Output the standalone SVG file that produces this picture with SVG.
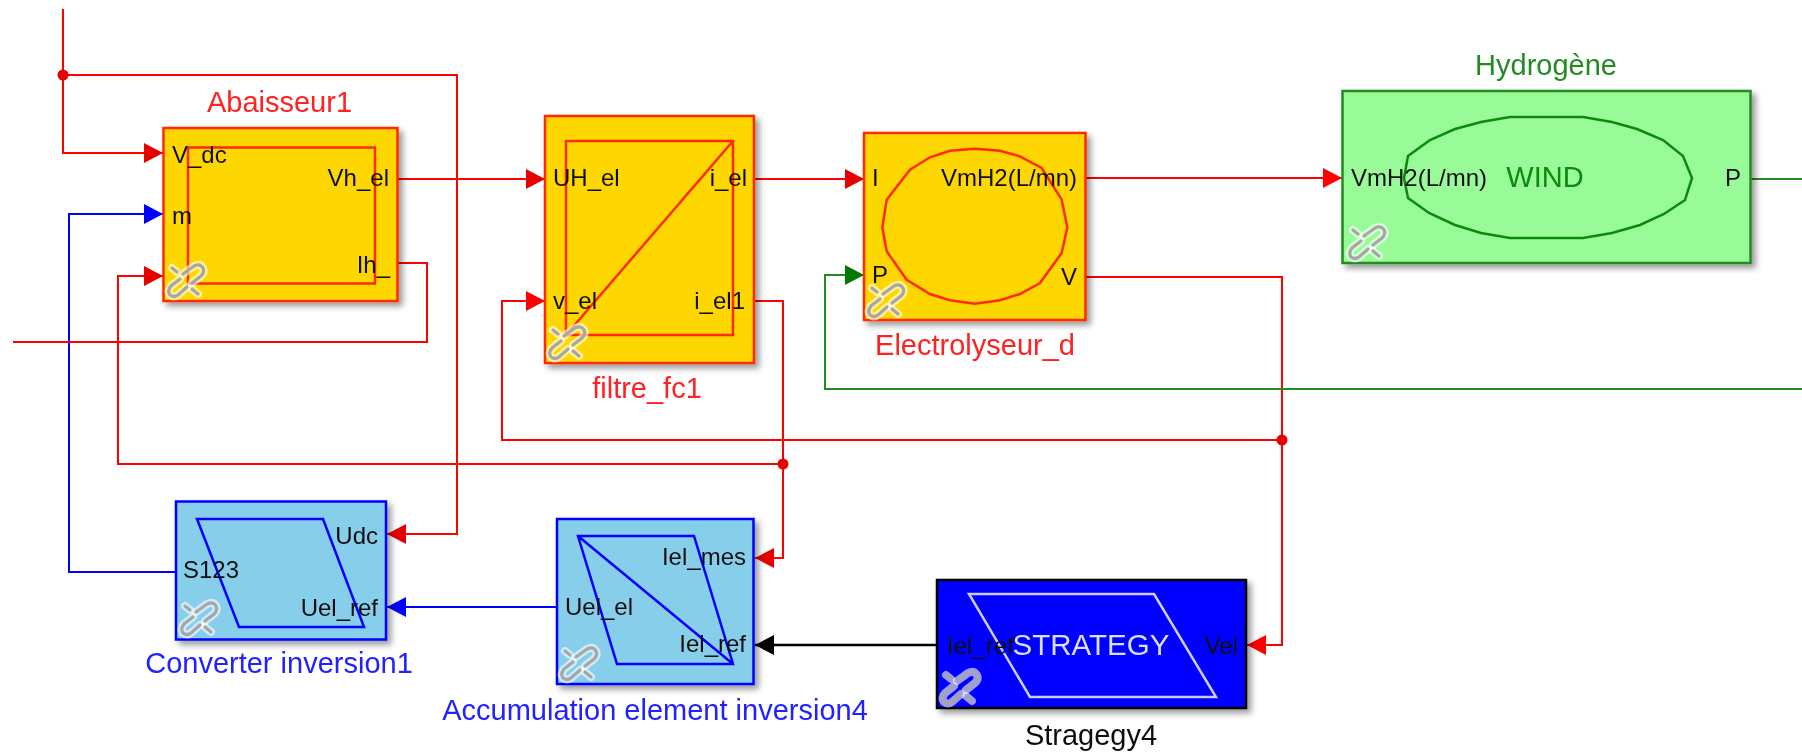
<svg xmlns="http://www.w3.org/2000/svg" width="1802" height="752" viewBox="0 0 1802 752">
<style>
text{font-family:"Liberation Sans",Arial,sans-serif}
.w{fill:none;stroke-width:2}
.r{stroke:#ff0000}.b{stroke:#0000ff}.g{stroke:#228b22}.k{stroke:#000;stroke-width:2.5}
.box{stroke-width:2.5;filter:url(#sh)}
.port{font-size:24px;fill:#111}
.name{font-size:29px;text-anchor:middle}
.ry{fill:#ffd700;stroke:#ff2a00}
.bl{fill:#87ceeb;stroke:#0000ff}
.in{fill:none;stroke-width:2.5}
</style>
<defs>
<filter id="sh" x="-10%" y="-10%" width="125%" height="125%"><feDropShadow dx="4" dy="4" stdDeviation="3" flood-color="#000" flood-opacity="0.4"/></filter>
<filter id="soft" x="-1%" y="-1%" width="102%" height="102%"><feGaussianBlur stdDeviation="0.6"/></filter>
<marker id="ar" markerWidth="20" markerHeight="20" refX="19" refY="10" orient="auto" markerUnits="userSpaceOnUse"><path d="M0 0L19 10L0 20Z" fill="#e60000"/></marker>
<marker id="ar2" markerWidth="20" markerHeight="20" refX="19" refY="10" orient="auto" markerUnits="userSpaceOnUse"><path d="M0 0L19 10L0 20Z" fill="#ff0000"/></marker>
<marker id="ab" markerWidth="20" markerHeight="20" refX="19" refY="10" orient="auto" markerUnits="userSpaceOnUse"><path d="M0 0L19 10L0 20Z" fill="#0000ff"/></marker>
<marker id="ag" markerWidth="20" markerHeight="20" refX="19" refY="10" orient="auto" markerUnits="userSpaceOnUse"><path d="M0 0L19 10L0 20Z" fill="#007a00"/></marker>
<marker id="ak" markerWidth="20" markerHeight="20" refX="19" refY="10" orient="auto" markerUnits="userSpaceOnUse"><path d="M0 0L19 10L0 20Z" fill="#000"/></marker>
<g id="link">
<g stroke="#fff" stroke-opacity="0.6" stroke-width="8" fill="none" stroke-linecap="round"><path d="M-2-6L9-14Q15-17 18-12Q20-8 16-4L7 3"/><path d="M-5-1L-14 6Q-18 11-15 15Q-11 18-7 15L2 7"/><path d="M-13-12L-8-8M7 9L13 14"/></g>
<g stroke="#a6a6a6" stroke-width="3.200" fill="none" stroke-linecap="round"><path d="M-2-6L9-14Q15-17 18-12Q20-8 16-4L7 3"/><path d="M-5-1L-14 6Q-18 11-15 15Q-11 18-7 15L2 7"/><path d="M-13-12L-8-8M7 9L13 14"/></g>
</g>
</defs>
<rect width="1802" height="752" fill="#fff"/>
<g filter="url(#soft)">
<g id="connectors">
<path class="w r" d="M63 9V153H163" marker-end="url(#ar)"/>
<path class="w r" d="M63 75H457V534H387" marker-end="url(#ar)"/>
<path class="w b" d="M176 572H69V214H163" marker-end="url(#ab)"/>
<path class="w r" d="M783 464H118V276H163" marker-end="url(#ar)"/>
<path class="w r" d="M397 263H427V342H13"/>
<path class="w r" d="M397 179H545" marker-end="url(#ar)"/>
<path class="w r" d="M754 179H864" marker-end="url(#ar)"/>
<path class="w r" d="M754 301H783V558H755" marker-end="url(#ar)"/>
<path class="w r" d="M1085 178H1342" marker-end="url(#ar2)"/>
<path class="w r" d="M1085 277H1282V645H1247" marker-end="url(#ar2)"/>
<path class="w r" d="M1282 440H502V301H545" marker-end="url(#ar2)"/>
<path class="w g" d="M1802 389H825V275H864" marker-end="url(#ag)"/>
<path class="w g" d="M1750 179H1802"/>
<path class="w b" d="M557 607H387" marker-end="url(#ab)"/>
<path class="w k" d="M937 645H755" marker-end="url(#ak)"/>
<circle cx="63" cy="75" r="5.500" fill="#e60000"/>
<circle cx="783" cy="464" r="5.500" fill="#e60000"/>
<circle cx="1282" cy="440" r="5.500" fill="#e60000"/>
</g>
<g id="abaisseur">
<rect class="box ry" x="163.500" y="128" width="234" height="173"/>
<rect class="in" stroke="#ff2a00" x="188" y="147.500" width="187" height="136"/>
<text class="name" x="279.500" y="112" fill="#ff2020">Abaisseur1</text>
<text class="port" x="172" y="163">V_dc</text>
<text class="port" x="172" y="224">m</text>
<text class="port" x="389" y="186" text-anchor="end">Vh_el</text>
<text class="port" x="390" y="273" text-anchor="end">Ih_</text>
<use href="#link" x="185" y="280"/>
</g>
<g id="filtre">
<rect class="box ry" x="545" y="116" width="209" height="247"/>
<path class="in" stroke="#ff2a00" d="M566 141H733V335H566ZM733 141L566 335"/>
<text class="name" x="647" y="398" fill="#ff2020">filtre_fc1</text>
<text class="port" x="553" y="186">UH_el</text>
<text class="port" x="553" y="309">v_el</text>
<text class="port" x="747" y="186" text-anchor="end">i_el</text>
<text class="port" x="745" y="309" text-anchor="end">i_el1</text>
<use href="#link" x="566" y="342"/>
</g>
<g id="electrolyseur">
<rect class="box ry" x="864" y="133" width="221.500" height="187"/>
<path class="in" stroke="#ff2a00" d="M975 148.700L1000 150.700L1020 156.300L1041.700 168L1061.700 199.700L1067.300 227.300L1061.700 253L1040 283L1020 294L1000 300.300L975 303.700L950 300.300L930 294L906.700 279.700L886.700 251.300L882.300 227.300L886.700 199.700L910 169.700L930 157.300L950 150.700Z"/>
<text class="name" x="975" y="355" fill="#ff2020">Electrolyseur_d</text>
<text class="port" x="872" y="186">I</text>
<text class="port" x="872" y="283">P</text>
<text class="port" x="1077" y="186" text-anchor="end">VmH2(L/mn)</text>
<text class="port" x="1077" y="285" text-anchor="end">V</text>
<use href="#link" x="885" y="300"/>
</g>
<g id="hydrogene">
<rect class="box" fill="#98fb98" stroke="#228b22" x="1342.500" y="91" width="408" height="172"/>
<path fill="none" stroke="#0a8a0a" stroke-width="2.500" d="M1510 117H1583L1612 122L1637 129L1663 140L1683 156L1692 178L1685 200L1664 214L1640 225L1612 233L1583 238H1510L1481 233L1455 225L1429 213L1408 198L1404 178L1408 156L1430 140L1455 129L1481 122Z"/>
<text class="name" x="1546" y="75" fill="#228b22">Hydrogène</text>
<text class="port" x="1351" y="186">VmH2(L/mn)</text>
<text x="1545" y="187" font-size="29" fill="#0a8a0a" text-anchor="middle">WIND</text>
<text class="port" x="1741" y="186" text-anchor="end">P</text>
<use href="#link" x="1366" y="242"/>
</g>
<g id="converter">
<rect class="box bl" x="176" y="501.500" width="210" height="138"/>
<path class="in" stroke="#0000ff" d="M197 519H323L364 627H239Z"/>
<text class="name" x="279" y="673" fill="#2020ff">Converter inversion1</text>
<text class="port" x="183" y="578">S123</text>
<text class="port" x="378" y="544" text-anchor="end">Udc</text>
<text class="port" x="378" y="616" text-anchor="end">Uel_ref</text>
<use href="#link" x="198" y="618"/>
</g>
<g id="accumulation">
<rect class="box bl" x="557" y="519" width="196.500" height="165"/>
<path class="in" stroke="#0000ff" d="M578 536H694L733 664H617ZM578 536L733 664"/>
<text class="name" x="655" y="720" fill="#2020ff">Accumulation element inversion4</text>
<text class="port" x="565" y="615">Uel_el</text>
<text class="port" x="746" y="565" text-anchor="end">Iel_mes</text>
<text class="port" x="746" y="652" text-anchor="end">Iel_ref</text>
<use href="#link" x="578" y="663"/>
</g>
<g id="strategy">
<rect class="box" fill="#0000ff" stroke="#000" x="937" y="580" width="309" height="128"/>
<path fill="none" stroke="#ccccff" stroke-width="2.500" d="M969 594H1154L1216 697H1030Z"/>
<text class="port" x="947" y="654">Iel_ref</text>
<text x="1091" y="655" font-size="29.500" fill="#ddddff" text-anchor="middle">STRATEGY</text>
<text class="port" x="1238" y="654" text-anchor="end">Vel</text>
<text class="name" x="1091" y="745" fill="#111">Stragegy4</text>
<use href="#link" x="959" y="687"/>
</g>
</g>
</svg>
